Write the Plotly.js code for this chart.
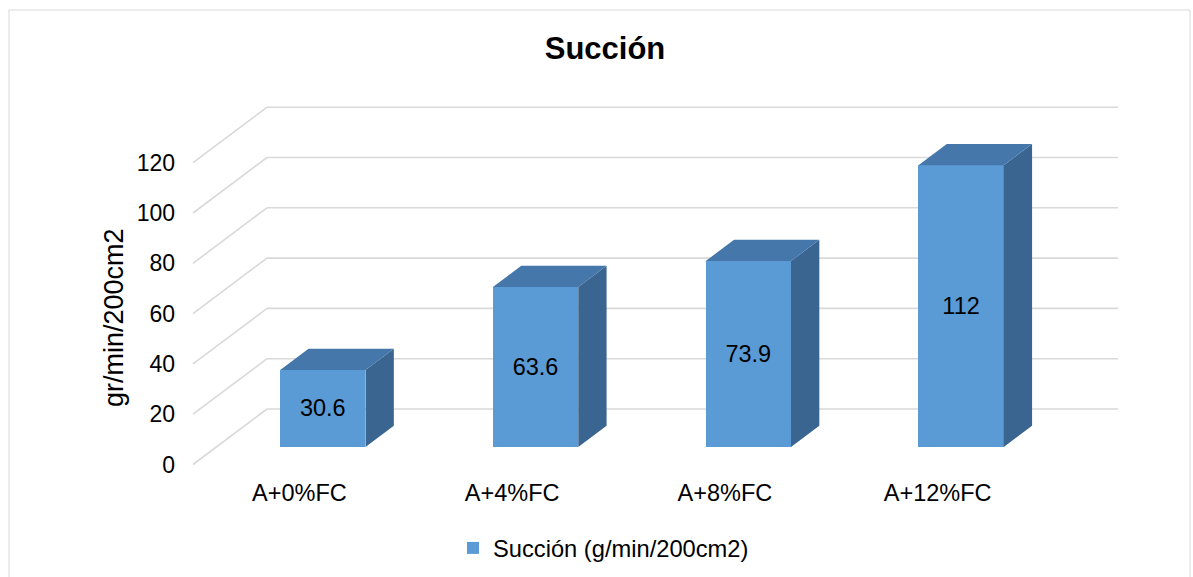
<!DOCTYPE html>
<html>
<head>
<meta charset="utf-8">
<script src="https://cdn.plot.ly/plotly-3.0.1.min.js"></script>
<style>html,body{margin:0;padding:0;background:#fff;}#chart{width:1193px;height:577px;}</style>
</head>
<body>
<div id="chart"></div>
<script>
// ---- data ----
const categories = ['A+0%FC', 'A+4%FC', 'A+8%FC', 'A+12%FC'];
const values = [30.6, 63.6, 73.9, 112];
const tickValues = [0, 20, 40, 60, 80, 100, 120];
const tickLabels = ['0', '20', '40', '60', '80', '100', '120'];
const seriesName = 'Succión (g/min/200cm2)';
const chartTitle = 'Succión';
const yTitle = 'gr/min/200cm2';

// ---- 3D (oblique) geometry in axis units ----
const DX = 0.3478;   // x offset of full floor depth (category units)
const DY = 22.07;    // y offset of full floor depth (value units)
const Z_FRONT = 0.317; // depth of bar front face
const Z_DEPTH = 0.383; // bar depth
const BAR_W = 0.401;
const FONT = 'Liberation Sans, Arial, sans-serif';

const FRONT_COL = '#5b9bd5';
const TOP_COL = '#4677aa';
const SIDE_COL = '#3a6590';
const GRID_COL = '#d9d9d9';

const nCat = categories.length;
const xIdx = categories.map((c, i) => i + 0.5);
const xFront = xIdx.map(x => x + Z_FRONT * DX);
const baseFront = Z_FRONT * DY;
const bdx = Z_DEPTH * DX, bdy = Z_DEPTH * DY;

// top faces & side faces
const topX = [], topY = [], sideX = [], sideY = [];
values.forEach((v, i) => {
  const x0 = xFront[i] - BAR_W / 2, x1 = xFront[i] + BAR_W / 2;
  const b = baseFront, t = baseFront + v;
  topX.push(x0, x1, x1 + bdx, x0 + bdx, x0, null);
  topY.push(t, t, t + bdy, t + bdy, t, null);
  sideX.push(x1, x1 + bdx, x1 + bdx, x1, x1, null);
  sideY.push(b, b + bdy, t + bdy, t, b, null);
});

const traces = [
  {
    type: 'bar', x: xFront, y: values, base: values.map(() => baseFront),
    width: BAR_W, name: seriesName,
    marker: {color: FRONT_COL, line: {width: 0}},
    text: values.map(v => String(v)), textposition: 'inside', insidetextanchor: 'middle',
    textangle: 0, constraintext: 'none',
    textfont: {family: FONT, size: 23.5, color: '#000'},
    hoverinfo: 'skip', showlegend: true
  },
  {
    type: 'scatter', mode: 'lines', x: sideX, y: sideY, fill: 'toself',
    fillcolor: SIDE_COL, line: {width: 0, color: SIDE_COL}, showlegend: false,
    hoverinfo: 'skip', cliponaxis: false
  },
  {
    type: 'scatter', mode: 'lines', x: topX, y: topY, fill: 'toself',
    fillcolor: TOP_COL, line: {width: 0, color: TOP_COL}, showlegend: false,
    hoverinfo: 'skip', cliponaxis: false
  }
];

// gridlines (floor diagonals + back wall) from tick values
const shapes = [];
tickValues.forEach(v => {
  shapes.push({type: 'line', xref: 'x', yref: 'y', layer: 'below',
    x0: 0, y0: v, x1: DX, y1: v + DY, line: {color: GRID_COL, width: 1.6}});
  shapes.push({type: 'line', xref: 'x', yref: 'y', layer: 'below',
    x0: DX, y0: v + DY, x1: nCat + DX, y1: v + DY, line: {color: GRID_COL, width: 1.6}});
});
// chart-area border
shapes.push({type: 'rect', xref: 'paper', yref: 'paper', layer: 'below',
  x0: (9 - 176) / 954, x1: (1190 - 176) / 954, y0: (476 - 585) / 381, y1: (476 - 10) / 381,
  line: {color: '#d9d9d9', width: 1}, fillcolor: 'rgba(0,0,0,0)'});

const layout = {
  width: 1193, height: 577,
  margin: {l: 176, r: 63, t: 95, b: 101},
  paper_bgcolor: '#fff', plot_bgcolor: '#fff',
  font: {family: FONT, size: 23, color: '#000'},
  title: {text: chartTitle, font: {family: FONT, size: 31, weight: 'bold', color: '#000'},
    xref: 'container', x: 605 / 1193, xanchor: 'center',
    yref: 'container', y: 1 - 48 / 577, yanchor: 'middle'},
  xaxis: {range: [(176 - 193) / 212.75, (1130 - 193) / 212.75], showgrid: false, zeroline: false,
    showline: false, ticks: '', tickmode: 'array', tickvals: xIdx, ticktext: categories,
    tickfont: {family: FONT, size: 23.5, color: '#000'}, fixedrange: true},
  yaxis: {range: [-4.573, 146.92], showgrid: false, zeroline: false, showline: false, ticks: '',
    tickmode: 'array', tickvals: tickValues, ticktext: tickLabels,
    tickfont: {family: FONT, size: 23, color: '#000'}, fixedrange: true},
  showlegend: true,
  legend: {orientation: 'h', xref: 'container', yref: 'container', x: 453 / 1193, xanchor: 'left',
    y: (577 - 548) / 577, yanchor: 'middle', font: {family: FONT, size: 23.7, color: '#000'},
    bgcolor: 'rgba(0,0,0,0)'},
  annotations: [{text: yTitle, xref: 'paper', yref: 'paper', x: (114 - 176) / 954, y: (476 - 318) / 381,
    xanchor: 'center', yanchor: 'middle', textangle: -90, showarrow: false,
    font: {family: FONT, size: 27, color: '#000'}}],
  shapes: shapes,
  bargap: 0
};

Plotly.newPlot('chart', traces, layout, {displayModeBar: false, staticPlot: true});
</script>
</body>
</html>
